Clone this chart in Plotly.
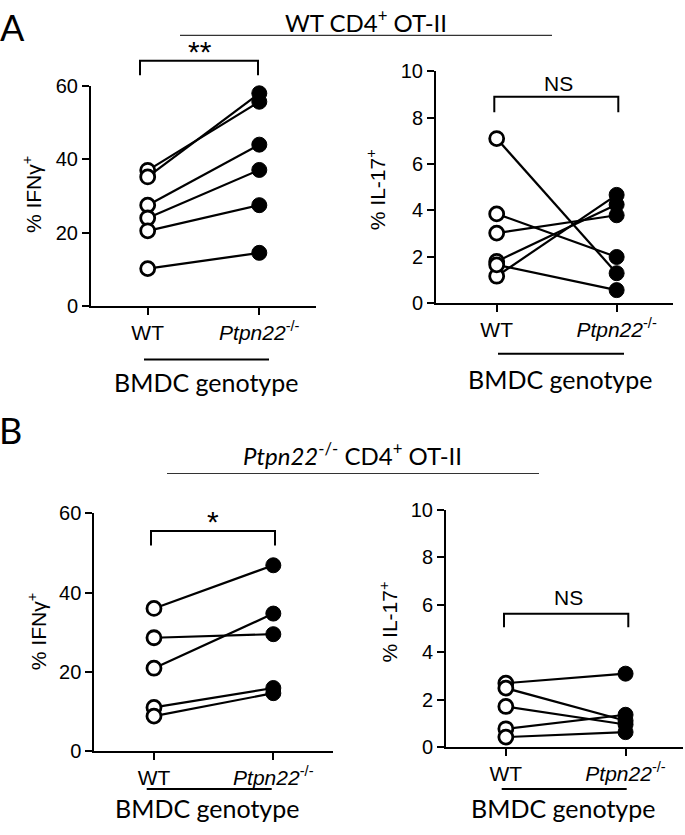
import plotly.graph_objects as go

W, H = 685, 835

# ---------------- data ----------------
groups = ["WT", "Ptpn22-/-"]
tick_text = ["WT", "<i>Ptpn22</i><sup>-/-</sup>"]

a_ifng_wt = [37.0, 35.2, 27.5, 24.0, 20.5, 10.2]
a_ifng_ko = [55.7, 58.0, 44.0, 37.1, 27.5, 14.5]

a_il17_wt = [7.10, 3.85, 3.02, 1.80, 1.16, 1.65]
a_il17_ko = [1.29, 1.99, 3.79, 4.25, 4.67, 0.56]

b_ifng_wt = [36.0, 28.6, 20.9, 11.0, 8.8]
b_ifng_ko = [46.9, 29.5, 34.7, 15.9, 14.6]

b_il17_wt = [2.69, 2.48, 1.71, 0.77, 0.42]
b_il17_ko = [3.09, 1.11, 0.95, 1.36, 0.63]

ifng_ticks = [0, 20, 40, 60]
il17_ticks = [0, 2, 4, 6, 8, 10]

# ---------------- helpers ----------------
def px(x):
    return x / W

def py(y):
    return 1 - y / H

ARIAL = "Liberation Sans"
CALIBRI = "Lato"

fig = go.Figure()

panels = [
    dict(wt=a_ifng_wt, ko=a_ifng_ko, yt=ifng_ticks, yr=[0, 60], xd=(91, 316), yd=(77, 303),
         xr=[-0.508, 1.508], lab="% IFNγ<sup>+</sup>", lp=(32, 188)),
    dict(wt=a_il17_wt, ko=a_il17_ko, yt=il17_ticks, yr=[0, 10], xd=(436, 673), yd=(62, 300),
         xr=[-0.506, 1.47], lab="% IL-17<sup>+</sup>", lp=(376, 184)),
    dict(wt=b_ifng_wt, ko=b_ifng_ko, yt=ifng_ticks, yr=[0, 60], xd=(94.3, 333), yd=(516, 760),
         xr=[-0.5, 1.5], lab="% IFNγ<sup>+</sup>", lp=(37, 638)),
    dict(wt=b_il17_wt, ko=b_il17_ko, yt=il17_ticks, yr=[0, 10], xd=(446, 683), yd=(512, 756),
         xr=[-0.5, 1.48], lab="% IL-17<sup>+</sup>", lp=(389, 628)),
]

annotations = []
shapes = []

for i, p in enumerate(panels, start=1):
    xa = "x" if i == 1 else f"x{i}"
    ya = "y" if i == 1 else f"y{i}"
    for w, k in zip(p["wt"], p["ko"]):
        fig.add_trace(go.Scatter(x=[0, 1], y=[w, k], mode="lines",
                                 line=dict(color="black", width=2.2),
                                 xaxis=xa, yaxis=ya, showlegend=False, hoverinfo="skip"))
    fig.add_trace(go.Scatter(x=[0] * len(p["wt"]), y=p["wt"], mode="markers",
                             marker=dict(size=14, color="white", line=dict(color="black", width=2.8)),
                             xaxis=xa, yaxis=ya, showlegend=False, cliponaxis=False))
    fig.add_trace(go.Scatter(x=[1] * len(p["ko"]), y=p["ko"], mode="markers",
                             marker=dict(size=15, color="black", line=dict(color="black", width=1)),
                             xaxis=xa, yaxis=ya, showlegend=False, cliponaxis=False))
    axis_common = dict(showline=True, linecolor="black", linewidth=2, ticks="outside",
                       tickwidth=2, ticklen=7, tickcolor="black", showgrid=False, zeroline=False)
    key = "" if i == 1 else str(i)
    fig.layout["xaxis" + key] = dict(domain=[px(p["xd"][0]), px(p["xd"][1])], range=p["xr"],
                                     tickvals=[0, 1], ticktext=tick_text, anchor=ya,
                                     tickfont=dict(family=ARIAL, size=21, color="black"),
                                     **axis_common)
    fig.layout["yaxis" + key] = dict(domain=[py(p["yd"][1]), py(p["yd"][0])], range=p["yr"],
                                     tickvals=p["yt"], anchor=xa,
                                     tickfont=dict(family=ARIAL, size=20, color="black"),
                                     **axis_common)
    annotations.append(dict(x=px(p["lp"][0]), y=py(p["lp"][1]), xref="paper", yref="paper",
                            text=p["lab"], textangle=-90, showarrow=False,
                            font=dict(family=ARIAL, size=21, color="black"),
                            xanchor="center", yanchor="middle"))

brackets = [
    (140, 258, 51, 66, "**", 200, 42, 30),
    (494.3, 618.3, 88, 104, "NS", 558, 74, 21),
    (151, 275, 534, 549, "*", 213, 524, 30),
    (504, 628.3, 619, 633, "NS", 568, 602, 21),
]
for l, r, t, b, lab, lx, ly, fs in brackets:
    shapes.append(dict(type="path", xref="paper", yref="paper",
                       path=f"M {px(l)},{py(b)} L {px(l)},{py(t)} L {px(r)},{py(t)} L {px(r)},{py(b)}",
                       line=dict(color="black", width=2)))
    annotations.append(dict(x=px(lx), y=py(ly), xref="paper", yref="paper", text=lab,
                            showarrow=False, font=dict(family=ARIAL, size=fs, color="black"),
                            xanchor="center", yanchor="middle"))

genotype = [
    (144, 269, 358, 206, 381),
    (498, 624, 352, 560, 378),
    (146.7, 271.7, 799, 207, 819),
    (501.7, 626.7, 799, 563, 819),
]
for l, r, y, tx, ty in genotype:
    shapes.append(dict(type="line", xref="paper", yref="paper", x0=px(l), x1=px(r),
                       y0=py(y), y1=py(y), line=dict(color="black", width=2)))
    annotations.append(dict(x=px(tx), y=py(ty), xref="paper", yref="paper", text="BMDC genotype",
                            showarrow=False, font=dict(family=CALIBRI, size=25, color="black"),
                            xanchor="center", yanchor="middle"))

headers = [
    ("WT CD4<sup>+</sup> OT-II", 180, 552, 25, 366, 10),
    ("<i>Ptpn22</i><sup>-/-</sup> CD4<sup>+</sup> OT-II", 167, 539, 475, 353, 455),
]
for txt, l, r, y, tx, ty in headers:
    shapes.append(dict(type="line", xref="paper", yref="paper", x0=px(l), x1=px(r),
                       y0=py(y), y1=py(y), line=dict(color="#333333", width=1.2)))
    annotations.append(dict(x=px(tx), y=py(ty), xref="paper", yref="paper", text=txt,
                            showarrow=False, font=dict(family=CALIBRI, size=24, color="black"),
                            xanchor="center", yanchor="middle"))

for letter, x, y in [("A", 12, 16), ("B", 10, 430)]:
    annotations.append(dict(x=px(x), y=py(y), xref="paper", yref="paper", text=letter,
                            showarrow=False, font=dict(family=CALIBRI, size=36, color="black"),
                            xanchor="center", yanchor="middle"))

fig.update_layout(width=W, height=H, margin=dict(l=0, r=0, t=0, b=0),
                  plot_bgcolor="white", paper_bgcolor="white",
                  annotations=annotations, shapes=shapes, showlegend=False)

fig.write_html("out.html", config={"displayModeBar": False},
               post_script="document.body.style.margin='0px';")
